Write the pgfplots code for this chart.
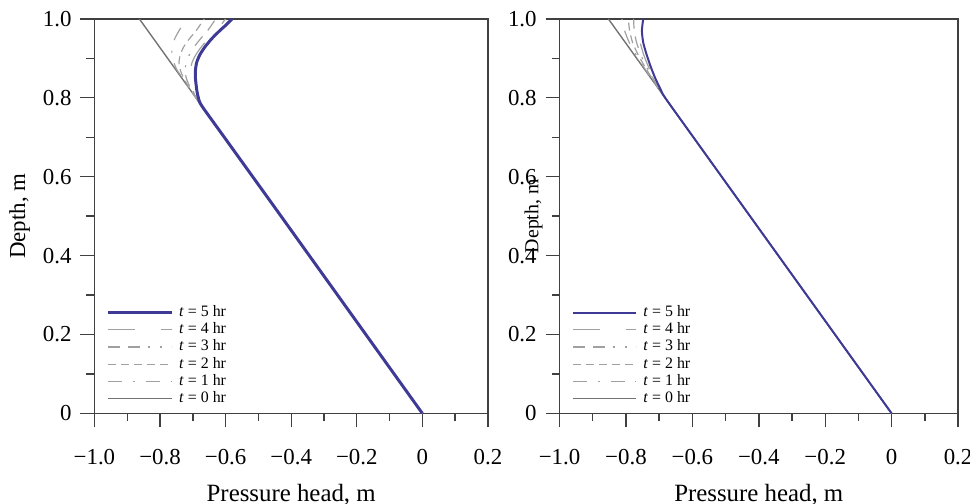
\documentclass[border=0pt]{standalone}
\usepackage{pgfplots}
\pgfplotsset{compat=1.18}
\usepackage{fontspec}
\setmainfont{Liberation Serif}
\definecolor{tfive}{RGB}{62,58,150}
\definecolor{tzero}{RGB}{115,115,115}
\definecolor{tmid}{RGB}{160,160,160}
\pgfplotsset{
 common/.style={
  scale only axis, height=198.5pt,
  xmin=-1, xmax=0.2, ymin=0, ymax=1,
  xtick={-1,-0.8,-0.6,-0.4,-0.2,0,0.2},
  xticklabels={−1.0,−0.8,−0.6,−0.4,−0.2,0,0.2},
  ytick={0,0.2,0.4,0.6,0.8,1},
  yticklabels={0,0.2,0.4,0.6,0.8,1.0},
  minor x tick num=1, minor y tick num=1,
  tick align=outside, xtick pos=bottom, ytick pos=left,
  major tick length=7pt, minor tick length=4pt,
  axis line style={black!75, line width=0.8pt},
  tick style={black!75, line width=0.7pt},
  tick label style={font=\fontsize{11.5}{13}\selectfont},
  xticklabel style={yshift=-7.5pt},
  yticklabel style={xshift=-1pt},
  xlabel style={font=\fontsize{12.5}{14}\selectfont},
  xlabel={Pressure head, m}, ylabel={Depth, m},
  xlabel style={at={(axis description cs:0.5,-0.205)}, anchor=center},
  legend style={draw=none, fill=none, at={(axis description cs:0.025,0.004)}, anchor=south west,
    font=\fontsize{8}{8.5}\selectfont, row sep=-2.4pt, inner sep=1pt,
    nodes={inner xsep=3pt}},
  legend cell align=left, reverse legend,
  legend image code/.code={\draw[##1] (0pt,0pt) -- (32pt,0pt);},
  every axis plot/.append style={smooth, tension=0.4},
 },
 s0/.style={tzero, line width=0.7pt},
 s1/.style={tmid, line width=0.6pt, dash pattern=on 7pt off 5.5pt on 1pt off 5.5pt},
 s2/.style={tmid, line width=0.6pt, dash pattern=on 4pt off 2.5pt},
 s3/.style={tmid, line width=0.6pt, dash pattern=on 6pt off 4pt on 6pt off 4pt on 1pt off 5pt on 1pt off 5pt},
 s4/.style={tmid, line width=0.6pt, dash pattern=on 13.5pt off 13pt},
}
\begin{document}
\begin{tikzpicture}
\path[use as bounding box] (-47.5pt,-45.5pt) rectangle (440.5pt,208pt);
\begin{axis}[common, width=198pt,
  ylabel style={at={(axis description cs:-0.19,0.5)}, anchor=center, font=\fontsize{11.5}{13}\selectfont}]
\addplot[s0] coordinates {(0,0) (-0.863,1)};
\addlegendentry{\textit{t} = 0 hr}
\addplot[s1] coordinates {(0,0) (-0.431,0.5) (-0.604,0.7) (-0.69,0.80) (-0.708,0.82) (-0.731,0.85) (-0.748,0.87) (-0.758,0.89) (-0.764,0.91) (-0.762,0.93) (-0.755,0.95) (-0.742,0.97) (-0.72,1)};
\addlegendentry{\textit{t} = 1 hr}
\addplot[s2] coordinates {(0,0) (-0.431,0.5) (-0.604,0.7) (-0.69,0.80) (-0.707,0.82) (-0.728,0.85) (-0.738,0.87) (-0.742,0.89) (-0.738,0.91) (-0.727,0.93) (-0.71,0.95) (-0.69,0.97) (-0.665,1)};
\addlegendentry{\textit{t} = 2 hr}
\addplot[s3] coordinates {(0,0) (-0.431,0.5) (-0.604,0.7) (-0.69,0.80) (-0.705,0.82) (-0.72,0.85) (-0.723,0.87) (-0.72,0.89) (-0.71,0.91) (-0.695,0.93) (-0.676,0.95) (-0.655,0.97) (-0.63,1)};
\addlegendentry{\textit{t} = 3 hr}
\addplot[s4] coordinates {(0,0) (-0.431,0.5) (-0.604,0.7) (-0.675,0.78) (-0.69,0.80) (-0.70,0.82) (-0.707,0.85) (-0.707,0.87) (-0.702,0.89) (-0.69,0.91) (-0.673,0.93) (-0.652,0.95) (-0.628,0.97) (-0.60,1)};
\addlegendentry{\textit{t} = 4 hr}
\addplot[tfive, line width=1.5pt] coordinates {(0,0) (-0.431,0.5) (-0.604,0.7) (-0.673,0.78) (-0.683,0.80) (-0.688,0.82) (-0.692,0.85) (-0.692,0.87) (-0.688,0.89) (-0.678,0.91) (-0.662,0.93) (-0.642,0.95) (-0.618,0.97) (-0.598,0.985) (-0.58,1)};
\addlegendentry{\textit{t} = 5 hr}
\end{axis}
\begin{axis}[common, width=200.5pt, at={(234pt,0pt)}, anchor=south west,
  ylabel style={at={(axis description cs:-0.065,0.5)}, anchor=center, font=\fontsize{10}{12}\selectfont}]
\addplot[s0] coordinates {(0,0) (-0.853,1)};
\addlegendentry{\textit{t} = 0 hr}
\addplot[s1] coordinates {(0,0) (-0.4265,0.5) (-0.597,0.7) (-0.682,0.80) (-0.699,0.82) (-0.724,0.85) (-0.748,0.88) (-0.770,0.91) (-0.790,0.94) (-0.804,0.97) (-0.812,1)};
\addlegendentry{\textit{t} = 1 hr}
\addplot[s2] coordinates {(0,0) (-0.4265,0.5) (-0.597,0.7) (-0.682,0.80) (-0.699,0.82) (-0.722,0.85) (-0.744,0.88) (-0.764,0.91) (-0.780,0.94) (-0.789,0.97) (-0.793,1)};
\addlegendentry{\textit{t} = 2 hr}
\addplot[s3] coordinates {(0,0) (-0.4265,0.5) (-0.597,0.7) (-0.682,0.80) (-0.698,0.82) (-0.719,0.85) (-0.739,0.88) (-0.756,0.91) (-0.768,0.94) (-0.775,0.97) (-0.777,1)};
\addlegendentry{\textit{t} = 3 hr}
\addplot[s4] coordinates {(0,0) (-0.4265,0.5) (-0.597,0.7) (-0.682,0.80) (-0.697,0.82) (-0.716,0.85) (-0.733,0.88) (-0.747,0.91) (-0.757,0.94) (-0.762,0.97) (-0.762,1)};
\addlegendentry{\textit{t} = 4 hr}
\addplot[tfive, line width=1pt] coordinates {(0,0) (-0.4265,0.5) (-0.597,0.7) (-0.682,0.80) (-0.695,0.82) (-0.712,0.85) (-0.726,0.88) (-0.738,0.91) (-0.748,0.94) (-0.752,0.97) (-0.748,1)};
\addlegendentry{\textit{t} = 5 hr}
\end{axis}
\end{tikzpicture}
\end{document}
